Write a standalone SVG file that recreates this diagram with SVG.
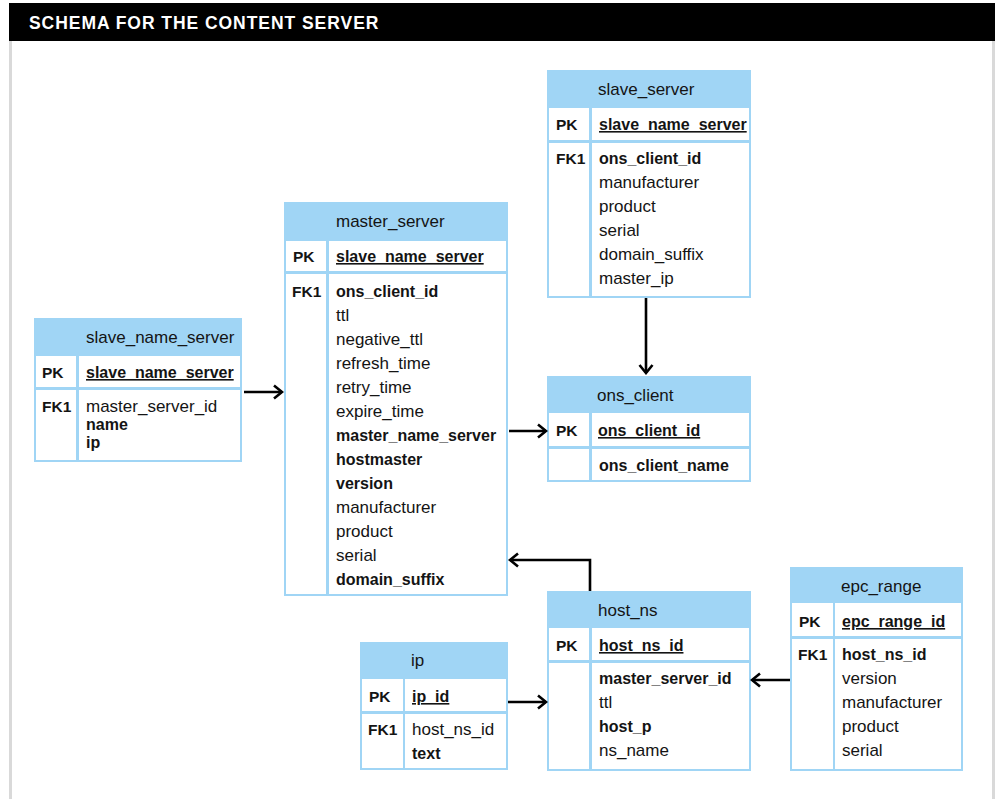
<svg xmlns="http://www.w3.org/2000/svg" width="995" height="799" viewBox="0 0 995 799">
  <style>
    text { font-family: "Liberation Sans", Arial, sans-serif; fill: #141414; }
    .frame { fill: #a0d5f5; }
    .cell { fill: #ffffff; }
    .title { font-size: 17px; }
    .key { font-size: 15.5px; font-weight: bold; }
    .f { font-size: 17px; }
    .b { font-size: 16px; font-weight: bold; }
    .pk { font-size: 16px; font-weight: bold; text-decoration: underline; }
    .head { font-size: 17.5px; font-weight: bold; fill: #ffffff; letter-spacing: 0.95px; }
    .conn { fill: none; stroke: #000; stroke-width: 2.6; marker-end: url(#arrow); }
  </style>
  <defs>
    <marker id="arrow" markerUnits="userSpaceOnUse" viewBox="0 0 12 16" refX="10" refY="8" markerWidth="12" markerHeight="16" orient="auto">
      <path d="M2,1.5 L10,8 L2,14.5" fill="none" stroke="#000" stroke-width="2.6"/>
    </marker>
  </defs>

  <!-- page frame and heading bar -->
  <rect x="0" y="0" width="995" height="799" fill="#ffffff"/>
  <rect x="9" y="41" width="3" height="758" fill="#d9d9d9"/>
  <rect x="992" y="41" width="3" height="758" fill="#d9d9d9"/>
  <rect x="9" y="3" width="986" height="38" fill="#000000"/>
  <text class="head" x="29" y="28.5">SCHEMA FOR THE CONTENT SERVER</text>

  <!-- slave_name_server -->
  <g id="slave_name_server">
    <rect class="frame" x="34" y="318" width="208" height="144"/>
    <rect class="cell" x="36" y="356" width="40" height="31"/>
    <rect class="cell" x="79" y="356" width="161" height="31"/>
    <rect class="cell" x="36" y="390" width="40" height="70"/>
    <rect class="cell" x="79" y="390" width="161" height="70"/>
    <text class="title" x="86" y="343">slave_name_server</text>
    <text class="key" x="42" y="378">PK</text>
    <text class="pk" x="86" y="378">slave_name_server</text>
    <text class="key" x="42" y="412">FK1</text>
    <text class="f" x="86" y="412">master_server_id</text>
    <text class="b" x="86" y="430">name</text>
    <text class="b" x="86" y="448">ip</text>
  </g>

  <!-- master_server -->
  <g id="master_server">
    <rect class="frame" x="284" y="202" width="224" height="394"/>
    <rect class="cell" x="286" y="241" width="40" height="30"/>
    <rect class="cell" x="329" y="241" width="177" height="30"/>
    <rect class="cell" x="286" y="274" width="40" height="320"/>
    <rect class="cell" x="329" y="274" width="177" height="320"/>
    <text class="title" x="336" y="227">master_server</text>
    <text class="key" x="293" y="262">PK</text>
    <text class="pk" x="336" y="262">slave_name_server</text>
    <text class="key" x="292" y="297">FK1</text>
    <text class="b" x="336" y="297">ons_client_id</text>
    <text class="f" x="336" y="321">ttl</text>
    <text class="f" x="336" y="345">negative_ttl</text>
    <text class="f" x="336" y="369">refresh_time</text>
    <text class="f" x="336" y="393">retry_time</text>
    <text class="f" x="336" y="417">expire_time</text>
    <text class="b" x="336" y="441">master_name_server</text>
    <text class="b" x="336" y="465">hostmaster</text>
    <text class="b" x="336" y="489">version</text>
    <text class="f" x="336" y="513">manufacturer</text>
    <text class="f" x="336" y="537">product</text>
    <text class="f" x="336" y="561">serial</text>
    <text class="b" x="336" y="585">domain_suffix</text>
  </g>

  <!-- slave_server -->
  <g id="slave_server">
    <rect class="frame" x="547" y="70" width="204" height="228"/>
    <rect class="cell" x="549" y="108" width="40" height="32"/>
    <rect class="cell" x="592" y="108" width="157" height="32"/>
    <rect class="cell" x="549" y="143" width="40" height="153"/>
    <rect class="cell" x="592" y="143" width="157" height="153"/>
    <text class="title" x="598" y="95">slave_server</text>
    <text class="key" x="556" y="130">PK</text>
    <text class="pk" x="599" y="130">slave_name_server</text>
    <text class="key" x="556" y="164">FK1</text>
    <text class="b" x="599" y="164">ons_client_id</text>
    <text class="f" x="599" y="188">manufacturer</text>
    <text class="f" x="599" y="212">product</text>
    <text class="f" x="599" y="236">serial</text>
    <text class="f" x="599" y="260">domain_suffix</text>
    <text class="f" x="599" y="284">master_ip</text>
  </g>

  <!-- ons_client -->
  <g id="ons_client">
    <rect class="frame" x="547" y="376" width="204" height="106"/>
    <rect class="cell" x="549" y="413" width="40" height="33"/>
    <rect class="cell" x="592" y="413" width="157" height="33"/>
    <rect class="cell" x="549" y="449" width="40" height="31"/>
    <rect class="cell" x="592" y="449" width="157" height="31"/>
    <text class="title" x="597" y="401">ons_client</text>
    <text class="key" x="556" y="436">PK</text>
    <text class="pk" x="598" y="436">ons_client_id</text>
    <text class="b" x="599" y="471">ons_client_name</text>
  </g>

  <!-- host_ns -->
  <g id="host_ns">
    <rect class="frame" x="547" y="591" width="204" height="180"/>
    <rect class="cell" x="549" y="628" width="40" height="32"/>
    <rect class="cell" x="592" y="628" width="157" height="32"/>
    <rect class="cell" x="549" y="663" width="40" height="106"/>
    <rect class="cell" x="592" y="663" width="157" height="106"/>
    <text class="title" x="598" y="616">host_ns</text>
    <text class="key" x="556" y="651">PK</text>
    <text class="pk" x="599" y="651">host_ns_id</text>
    <text class="b" x="599" y="684">master_server_id</text>
    <text class="f" x="599" y="708">ttl</text>
    <text class="b" x="599" y="732">host_p</text>
    <text class="f" x="599" y="756">ns_name</text>
  </g>

  <!-- ip -->
  <g id="ip">
    <rect class="frame" x="360" y="642" width="148" height="128"/>
    <rect class="cell" x="362" y="679" width="41" height="32"/>
    <rect class="cell" x="405" y="679" width="101" height="32"/>
    <rect class="cell" x="362" y="714" width="41" height="54"/>
    <rect class="cell" x="405" y="714" width="101" height="54"/>
    <text class="title" x="411" y="666">ip</text>
    <text class="key" x="369" y="702">PK</text>
    <text class="pk" x="412" y="702">ip_id</text>
    <text class="key" x="368" y="735">FK1</text>
    <text class="f" x="412" y="735">host_ns_id</text>
    <text class="b" x="412" y="759">text</text>
  </g>

  <!-- epc_range -->
  <g id="epc_range">
    <rect class="frame" x="790" y="567" width="173" height="204"/>
    <rect class="cell" x="792" y="603" width="41" height="33"/>
    <rect class="cell" x="835" y="603" width="126" height="33"/>
    <rect class="cell" x="792" y="639" width="41" height="130"/>
    <rect class="cell" x="835" y="639" width="126" height="130"/>
    <text class="title" x="841" y="592">epc_range</text>
    <text class="key" x="799" y="627">PK</text>
    <text class="pk" x="842" y="627">epc_range_id</text>
    <text class="key" x="798" y="660">FK1</text>
    <text class="b" x="842" y="660">host_ns_id</text>
    <text class="f" x="842" y="684">version</text>
    <text class="f" x="842" y="708">manufacturer</text>
    <text class="f" x="842" y="732">product</text>
    <text class="f" x="842" y="756">serial</text>
  </g>

  <!-- relationships -->
  <g id="connectors">
    <path class="conn" d="M244,392 H282"/>
    <path class="conn" d="M646,298 V373"/>
    <path class="conn" d="M509,431 H546"/>
    <path class="conn" d="M590,591 V560 H510"/>
    <path class="conn" d="M508,702 H546"/>
    <path class="conn" d="M790,680 H752"/>
  </g>
</svg>
